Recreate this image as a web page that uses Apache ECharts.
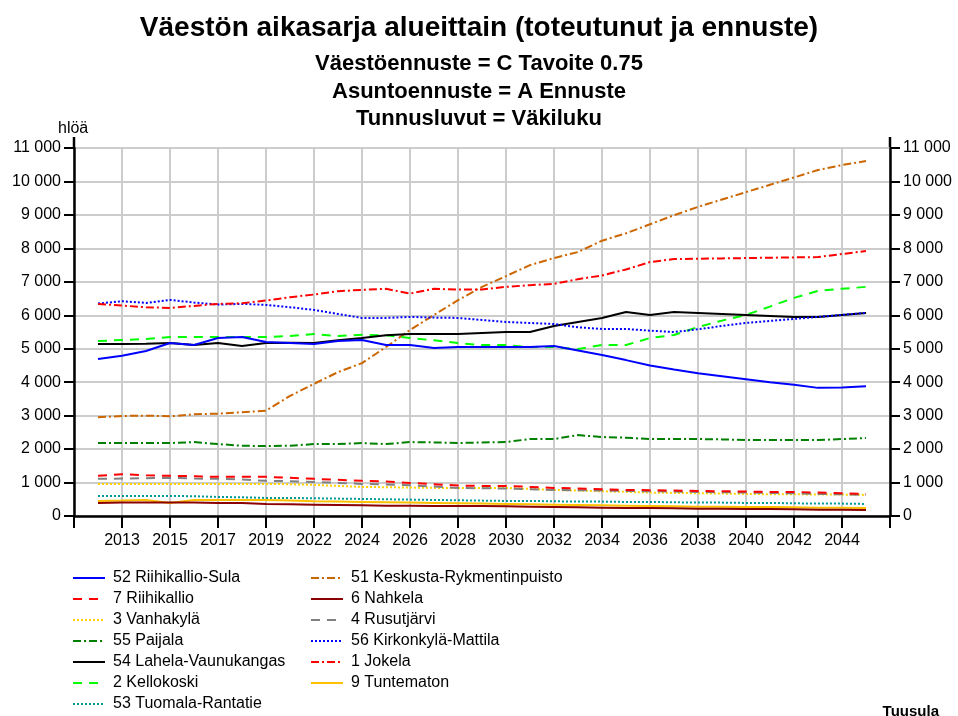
<!DOCTYPE html>
<html>
<head>
<meta charset="utf-8">
<script src="https://cdn.jsdelivr.net/npm/echarts@6/dist/echarts.min.js"></script>
<style>html,body{margin:0;padding:0;background:#fff}#c{width:958px;height:716px}</style>
</head>
<body>
<div id="c"></div>
<script>
// categories (with empty padding categories at both ends)
const years = ['', '2012','2013','2014','2015','2016','2017','2018','2019','2020',
  '2022','2023','2024','2025','2026','2027','2028','2029','2030','2031','2032','2033',
  '2034','2035','2036','2037','2038','2039','2040','2041','2042','2043','2044','2045', ''];

const yTicks = [0,1000,2000,3000,4000,5000,6000,7000,8000,9000,10000,11000];

const s52 = [4690,4790,4930,5170,5110,5320,5350,5200,5170,5140,5230,5260,5110,5110,5020,5050,5050,5050,5050,5080,4950,4810,4660,4500,4380,4270,4180,4090,4000,3920,3830,3840,3880];
const s51 = [2950,2990,3000,2980,3040,3060,3100,3150,3590,3950,4300,4570,5050,5560,6010,6450,6850,7170,7500,7710,7890,8230,8450,8720,8990,9240,9460,9680,9900,10120,10340,10490,10610];
const s7  = [1200,1250,1220,1200,1190,1170,1170,1170,1140,1110,1080,1050,1030,990,950,910,900,900,870,840,820,800,780,770,760,750,740,730,720,720,700,680,660];
const s6  = [390,400,400,400,400,390,390,360,350,340,330,320,310,310,300,300,300,290,280,270,260,250,240,240,230,220,220,210,210,200,190,190,180];
const s3  = [960,960,960,960,960,960,960,960,950,930,900,870,860,850,840,840,840,840,810,780,760,740,720,700,690,680,670,660,650,650,640,640,630];
const s4  = [1110,1120,1130,1140,1120,1110,1090,1050,1040,1020,990,960,940,920,880,840,830,820,800,780,770,760,750,740,730,720,710,700,690,680,660,650,630];
const s55 = [2180,2180,2180,2180,2210,2150,2100,2090,2100,2150,2150,2180,2150,2210,2200,2180,2200,2210,2300,2300,2420,2360,2340,2300,2300,2300,2290,2270,2270,2270,2270,2300,2330];
const s56 = [6350,6420,6370,6460,6380,6320,6340,6310,6240,6160,6040,5920,5920,5950,5930,5920,5860,5800,5770,5740,5640,5590,5590,5540,5500,5580,5680,5770,5830,5890,5950,6010,6070];
const s54 = [5140,5140,5150,5170,5110,5170,5080,5170,5180,5170,5250,5320,5400,5440,5440,5440,5470,5500,5500,5680,5800,5920,6100,6010,6100,6070,6040,6010,5980,5950,5950,6010,6070];
const s1  = [6340,6290,6240,6220,6280,6340,6360,6440,6540,6620,6720,6760,6790,6650,6790,6770,6770,6850,6900,6940,7080,7190,7370,7590,7680,7690,7700,7710,7720,7730,7740,7830,7920];
const s2  = [5230,5260,5290,5350,5350,5350,5350,5350,5380,5440,5380,5420,5400,5320,5250,5170,5110,5110,5050,5050,4990,5110,5110,5320,5410,5650,5840,6010,6260,6520,6730,6790,6850];
const s9  = [450,460,480,390,480,480,480,480,460,440,430,420,410,400,390,380,370,360,350,340,330,320,310,300,290,280,280,270,270,260,250,250,240];
const s53 = [600,600,600,600,590,570,560,540,540,530,520,510,500,490,480,470,460,450,450,440,430,430,420,420,410,400,400,390,390,380,370,370,360];

const names = {
  s52:'52 Riihikallio-Sula', s51:'51 Keskusta-Rykmentinpuisto', s7:'7 Riihikallio', s6:'6 Nahkela',
  s3:'3 Vanhakylä', s4:'4 Rusutjärvi', s55:'55 Paijala', s56:'56 Kirkonkylä-Mattila',
  s54:'54 Lahela-Vaunukangas', s1:'1 Jokela', s2:'2 Kellokoski', s9:'9 Tuntematon', s53:'53 Tuomala-Rantatie'
};

const FONT = '"Liberation Sans", Arial, sans-serif';
const DASH = [9, 7];
const DOT = [2, 2];
const DASHDOT = [8, 3, 2, 3];

function pad(arr){ return [null].concat(arr).concat([null]); }
function mk(name, data, color, type, width){
  return { name, type:'line', data: pad(data), symbol:'none', showSymbol:false, animation:false,
    lineStyle:{ color, type, width: width || 2 }, itemStyle:{ color } , z: 3};
}

const series = [
  mk(names.s53, s53, '#009999', DOT),
  mk(names.s9, s9, '#ffc000', 'solid'),
  mk(names.s6, s6, '#8b0000', 'solid'),
  mk(names.s3, s3, '#ffd200', DOT),
  mk(names.s4, s4, '#808080', DASH),
  mk(names.s7, s7, '#ff0000', DASH),
  mk(names.s55, s55, '#008000', DASHDOT),
  mk(names.s51, s51, '#cc6600', DASHDOT),
  mk(names.s2, s2, '#00ff00', DASH),
  mk(names.s54, s54, '#000000', 'solid'),
  mk(names.s52, s52, '#0000ff', 'solid'),
  mk(names.s56, s56, '#0000ff', DOT),
  mk(names.s1, s1, '#ff0000', DASHDOT)
];

const fmt = v => String(v).replace(/\B(?=(\d{3})+(?!\d))/g, ' ');

const GL = 74, GR = 68, GT = 148, GB = 200;

const yAxisCommon = {
  type:'value', min: yTicks[0], max: yTicks[yTicks.length-1], interval: 1000,
  axisLine:{ show:true, lineStyle:{ color:'#000', width:2.5 } },
  axisTick:{ show:true, length:10, lineStyle:{ color:'#000', width:2 } },
  axisLabel:{ color:'#000', fontSize:16, fontFamily:FONT, formatter: fmt, margin:13 },
};

const legendCommon = {
  orient:'vertical', top:570, padding:0, height:146, itemWidth:32, itemHeight:14, itemGap:5,
  itemStyle:{ color:'rgba(0,0,0,0)', borderColor:'rgba(0,0,0,0)', borderWidth:0, opacity:0 },
  textStyle:{ color:'#000', fontSize:16, lineHeight:16, fontFamily:FONT, padding:[0,0,0,3] },
  selectedMode:false
};

const titleStyle = (size, weight) => ({ fontSize:size, fontWeight:weight, color:'#000', fontFamily:FONT });

const chart = echarts.init(document.getElementById('c'), null, {renderer:'canvas'});
chart.setOption({
  backgroundColor:'#fff',
  animation:false,
  title:[
    { text:'Väestön aikasarja alueittain (toteutunut ja ennuste)', left:'center', top:9, textStyle: titleStyle(28,'bold') },
    { text:'Väestöennuste = C Tavoite 0.75', left:'center', top:48, textStyle: titleStyle(22,'bold') },
    { text:'Asuntoennuste = A Ennuste', left:'center', top:76, textStyle: titleStyle(22,'bold') },
    { text:'Tunnusluvut = Väkiluku', left:'center', top:103, textStyle: titleStyle(22,'bold') },
    { text:'hlöä', left:53, top:116, textStyle: titleStyle(16,'normal') },
    { text:'Tuusula', right:14, top:699, textStyle: titleStyle(15,'bold') }
  ],
  grid:{ left:GL, right:GR, top:GT, bottom:GB, containLabel:false },
  xAxis:{
    type:'category', data: years, boundaryGap:false,
    axisLine:{ show:true, lineStyle:{ color:'#000', width:2.5 } },
    axisTick:{ show:true, interval:1, length:12, lineStyle:{ color:'#000', width:2 } },
    axisLabel:{ interval:1, color:'#000', fontSize:16, fontFamily:FONT, margin:17 },
    splitLine:{ show:true, interval:1, lineStyle:{ color:'#cccccc', width:2 } }
  },
  yAxis:[
    Object.assign({}, yAxisCommon, { position:'left', splitLine:{ show:true, lineStyle:{ color:'#cccccc', width:2 } } }),
    Object.assign({}, yAxisCommon, { position:'right', splitLine:{ show:false } })
  ],
  legend:[
    Object.assign({}, legendCommon, { left:72, data:[names.s52, names.s7, names.s3, names.s55, names.s54, names.s2, names.s53] }),
    Object.assign({}, legendCommon, { left:310, data:[names.s51, names.s6, names.s4, names.s56, names.s1, names.s9] })
  ],
  graphic:[
    { type:'line', shape:{ x1:GL, y1:GT-11, x2:GL, y2:GT }, style:{ stroke:'#000', lineWidth:2.5 } },
    { type:'line', shape:{ x1:958-GR, y1:GT-11, x2:958-GR, y2:GT }, style:{ stroke:'#000', lineWidth:2.5 } }
  ],
  series
});
</script>
</body>
</html>
